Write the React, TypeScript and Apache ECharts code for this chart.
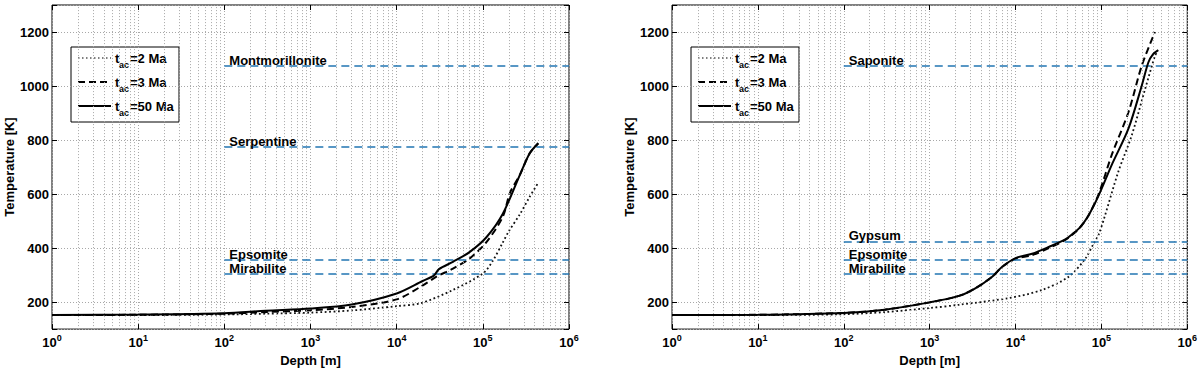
import React, { useEffect, useRef } from "react";
import * as echarts from "echarts";

// ---------- data ----------
const decades = [1, 10, 100, 1000, 10000, 100000, 1000000];
const minorMultipliers = [2, 3, 4, 5, 6, 7, 8, 9];

const legendNames = ["2 Ma", "3 Ma", "50 Ma"];

const mineralsLeft = ["Montmorillonite", "Serpentine", "Epsomite", "Mirabilite"];
const mineralTempsLeft = [1075, 776, 355, 305];
const mineralsRight = ["Saponite", "Gypsum", "Epsomite", "Mirabilite"];
const mineralTempsRight = [1075, 425, 355, 305];
const mineralStartDepth = 100;
const mineralEndDepth = 1000000;

// Left panel
const depthL2 = [1, 10, 100, 300, 1000, 3000, 10000, 19000, 45000, 100000, 130000, 170000, 200000, 270000, 350000, 430000];
const tempL2 = [152, 152, 154, 157, 161, 169, 185, 196, 245, 306, 352, 420, 462, 526, 590, 637];

const depthL3 = [1, 10, 100, 300, 1000, 3000, 10000, 19000, 29000, 45000, 70000, 110000, 170000, 207000, 270000, 350000, 440000];
const tempL3 = [152, 153, 157, 163, 170, 182, 210, 257, 294, 324, 361, 422, 515, 605, 672, 751, 788];

const depthL50 = [1, 10, 100, 300, 1000, 3000, 10000, 20000, 27000, 31000, 45000, 70000, 110000, 170000, 270000, 350000, 440000];
const tempL50 = [152, 154, 159, 168, 176, 191, 232, 278, 298, 322, 349, 385, 440, 526, 672, 751, 788];

// Right panel
const depthR2 = [1, 10, 100, 300, 1000, 2200, 8400, 20400, 41600, 65000, 81000, 93000, 110000, 158000, 226000, 323000, 420000, 440000];
const tempR2 = [152, 152, 155, 163, 178, 190, 215, 245, 294, 361, 416, 450, 520, 684, 818, 989, 1111, 1123];

const depthR3 = [1, 10, 100, 300, 1000, 2200, 3400, 5350, 7000, 10000, 15600, 24400, 38000, 46000, 56000, 70000, 93000, 132000, 207000, 295000, 420000];
const tempR3 = [152, 153, 160, 172, 199, 223, 251, 294, 331, 360, 374, 400, 430, 450, 475, 518, 600, 745, 904, 1075, 1200];

const depthR50 = [1, 10, 100, 300, 1000, 2200, 3400, 5350, 7000, 10000, 15600, 24400, 38000, 46000, 56000, 70000, 93000, 132000, 207000, 295000, 352000, 400000, 460000];
const tempR50 = [152, 153, 160, 172, 199, 223, 251, 294, 331, 363, 379, 404, 432, 452, 476, 518, 595, 708, 843, 1001, 1087, 1118, 1133];

// ---------- helpers ----------
const FONT = "'Liberation Sans', Arial, Helvetica, sans-serif";
const zip = (xs: number[], ys: number[]) => xs.map((x, i) => [x, ys[i]]);
const minorDepths: number[] = [];
decades.slice(0, -1).forEach((d) => minorMultipliers.forEach((m) => minorDepths.push(d * m)));

const GRID_LEFTS = [52, 672];
const GRID_TOP = 5;
const GRID_W = 517;
const GRID_H = 327;

const gridLine = { color: "#a8a8a8", type: [1, 2] as number[], width: 1 };

function logLabel(v: number) {
  const e = Math.round(Math.log10(v));
  return `{b|10}{s|${e}}`;
}

export default function App() {
  const ref = useRef<HTMLDivElement>(null);

  useEffect(() => {
    if (!ref.current) return;
    const chart = echarts.init(ref.current, undefined, { renderer: "svg" });

    const panels = [
      { curves: [tempL2, tempL3, tempL50], depths: [depthL2, depthL3, depthL50], minerals: mineralsLeft, mtemps: mineralTempsLeft },
      { curves: [tempR2, tempR3, tempR50], depths: [depthR2, depthR3, depthR50], minerals: mineralsRight, mtemps: mineralTempsRight },
    ];

    const grids = GRID_LEFTS.map((left) => ({
      left,
      top: GRID_TOP,
      width: GRID_W,
      height: GRID_H,
      show: true,
      borderColor: "#000",
      borderWidth: 1,
      backgroundColor: "#fff",
    }));

    const xAxes: any[] = [];
    const yAxes: any[] = [];
    GRID_LEFTS.forEach((_, i) => {
      xAxes.push({
        type: "log",
        logBase: 10,
        min: 1,
        max: 1000000,
        splitNumber: 6,
        gridIndex: i,
        name: "Depth [m]",
        nameLocation: "middle",
        nameGap: 16,
        nameTextStyle: { fontFamily: FONT, fontWeight: "bold", fontSize: 13, color: "#000" },
        axisLine: { show: false },
        axisTick: { show: true, inside: true, length: 5, lineStyle: { color: "#000" } },
        axisLabel: {
          margin: 4,
          formatter: logLabel,
          rich: {
            b: { fontFamily: FONT, fontWeight: "bold", fontSize: 13, color: "#000" },
            s: { fontFamily: FONT, fontWeight: "bold", fontSize: 9, color: "#000", padding: [0, 0, 10, 0] },
          },
        },
        splitLine: { show: true, lineStyle: gridLine },
      });
      yAxes.push({
        type: "value",
        min: 100,
        max: 1300,
        splitNumber: 6,
        gridIndex: i,
        name: "Temperature [K]",
        nameLocation: "middle",
        nameGap: 36,
        nameRotate: 90,
        nameTextStyle: { fontFamily: FONT, fontWeight: "bold", fontSize: 13, color: "#000" },
        axisLine: { show: false },
        axisTick: { show: true, inside: true, length: 5, lineStyle: { color: "#000" } },
        axisLabel: {
          margin: 3,
          fontFamily: FONT,
          fontWeight: "bold",
          fontSize: 13,
          color: "#000",
          formatter: (v: number) => (v === 100 || v === 1300 ? "" : String(v)),
        },
        splitLine: { show: true, lineStyle: gridLine },
      });
    });
    // mirrored tick axes (top / right)
    GRID_LEFTS.forEach((_, i) => {
      xAxes.push({
        type: "log",
        logBase: 10,
        min: 1,
        max: 1000000,
        splitNumber: 6,
        gridIndex: i,
        position: "top",
        axisLine: { show: false },
        axisTick: { show: true, inside: true, length: 5, lineStyle: { color: "#000" } },
        axisLabel: { show: false },
        splitLine: { show: false },
      });
      yAxes.push({
        type: "value",
        min: 100,
        max: 1300,
        splitNumber: 6,
        gridIndex: i,
        position: "right",
        axisLine: { show: false },
        axisTick: { show: true, inside: true, length: 5, lineStyle: { color: "#000" } },
        axisLabel: { show: false },
        splitLine: { show: false },
      });
    });

    const curveStyles = [
      { color: "#111", width: 1.8, type: [1.8, 2.6] },
      { color: "#000", width: 2, type: [7, 4] },
      { color: "#000", width: 2, type: "solid" },
    ];

    const series: any[] = [];
    panels.forEach((p, i) => {
      // minor vertical grid lines
      series.push({
        type: "line",
        xAxisIndex: i,
        yAxisIndex: i,
        data: [],
        silent: true,
        z: 1,
        markLine: {
          silent: true,
          symbol: ["none", "none"],
          label: { show: false },
          lineStyle: gridLine,
          data: minorDepths.map((d) => ({ xAxis: d })),
        },
      });
      // mineral dehydration lines
      series.push({
        type: "line",
        xAxisIndex: i,
        yAxisIndex: i,
        data: [],
        silent: true,
        z: 2,
        markLine: {
          silent: true,
          symbol: ["none", "none"],
          lineStyle: { color: "#2276b2", type: [8, 5], width: 1.5 },
          label: {
            show: true,
            position: "insideStartTop",
            distance: [5, -1],
            formatter: "{b}",
            fontFamily: FONT,
            fontWeight: "bold",
            fontSize: 13,
            color: "#000",
          },
          data: p.minerals.map((name, k) => [
            { name, coord: [mineralStartDepth, p.mtemps[k]] },
            { coord: [mineralEndDepth, p.mtemps[k]] },
          ]),
        },
      });
      p.curves.forEach((temps, k) => {
        series.push({
          type: "line",
          name: legendNames[k],
          xAxisIndex: i,
          yAxisIndex: i,
          data: zip(p.depths[k], temps),
          showSymbol: false,
          symbol: "none",
          smooth: 0.3,
          z: 3 + k,
          lineStyle: curveStyles[k],
        });
      });
    });

    // legends drawn as boxes (one per panel)
    const rowsY = [58, 82, 106];
    const graphic: any[] = [];
    GRID_LEFTS.forEach((gl) => {
      const dx = gl - 52;
      const children: any[] = [
        {
          type: "rect",
          shape: { x: 71 + dx, y: 47, width: 108, height: 75 },
          style: { fill: "#fff", stroke: "#000", lineWidth: 1 },
        },
      ];
      rowsY.forEach((y, k) => {
        const st = curveStyles[k];
        children.push({
          type: "line",
          shape: { x1: 78 + dx, y1: y, x2: 111 + dx, y2: y },
          style: {
            stroke: k === 0 ? "#555" : "#000",
            lineWidth: k === 0 ? 1.4 : st.width,
            lineDash: k === 0 ? [1.5, 2.5] : k === 1 ? [7, 4] : null,
          },
        });
        children.push({
          type: "text",
          x: 115 + dx,
          y: y,
          style: { text: "t", font: `bold 13px ${FONT}`, fill: "#000", verticalAlign: "middle", align: "left" },
        });
        children.push({
          type: "text",
          x: 119 + dx,
          y: y + 7,
          style: { text: "ac", font: `bold 9px ${FONT}`, fill: "#000", verticalAlign: "middle", align: "left" },
        });
        children.push({
          type: "text",
          x: 130 + dx,
          y: y,
          style: { text: "=" + legendNames[k], font: `bold 13px ${FONT}`, fill: "#000", verticalAlign: "middle", align: "left" },
        });
      });
      graphic.push({ type: "group", z: 100, children });
    });

    chart.setOption({
      animation: false,
      textStyle: { fontFamily: FONT },
      grid: grids,
      xAxis: xAxes,
      yAxis: yAxes,
      series,
      graphic,
    });

    return () => chart.dispose();
  }, []);

  return (
    <div
      ref={ref}
      style={{ position: "absolute", left: 0, top: 0, width: 1200, height: 372, background: "#fff" }}
    />
  );
}
